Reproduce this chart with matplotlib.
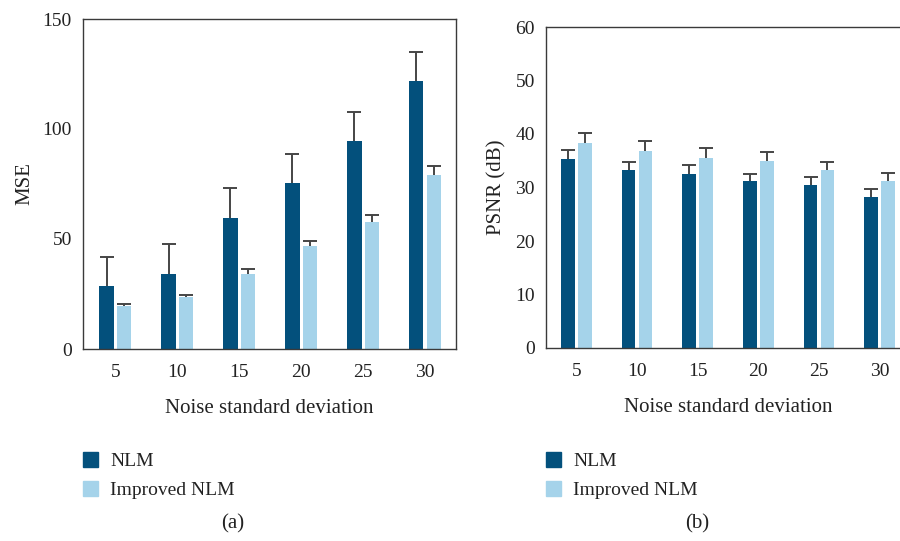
import numpy as np
import matplotlib
matplotlib.use("Agg")
import matplotlib.pyplot as plt
from matplotlib.patches import Patch

plt.rcParams['font.family'] = ['Liberation Serif', 'DejaVu Serif']

noise = ["5", "10", "15", "20", "25", "30"]
series = ["NLM", "Improved NLM"]

mse_nlm = [28.6, 34.1, 59.5, 75.5, 94.5, 121.8]
mse_nlm_err = [13.2, 13.5, 13.6, 13.1, 13.2, 13.2]
mse_imp = [19.6, 23.6, 34.1, 46.8, 57.7, 79.0]
mse_imp_err = [0.9, 0.9, 2.2, 2.3, 3.2, 4.2]

psnr_nlm = [35.3, 33.2, 32.6, 31.2, 30.4, 28.3]
psnr_nlm_err = [1.7, 1.5, 1.6, 1.4, 1.6, 1.5]
psnr_imp = [38.3, 36.8, 35.6, 34.9, 33.2, 31.2]
psnr_imp_err = [1.8, 1.8, 1.7, 1.7, 1.6, 1.5]

c_dark = "#03507c"
c_light = "#a5d3ea"
c_err = "#454545"
c_spine = "#3a3a3a"
c_text = "#222222"

fig = plt.figure(figsize=(9, 5.41), dpi=100)
ax1 = fig.add_axes([83 / 900, 1 - 349 / 541, 373 / 900, 330 / 541])
ax2 = fig.add_axes([546 / 900, 1 - 348 / 541, 364 / 900, 321 / 541])

x = np.arange(len(noise))
w = 0.23
off = 0.14


def draw(ax, a, a_err, b, b_err):
    for vals, errs, dx, col in [(a, a_err, -off, c_dark), (b, b_err, off, c_light)]:
        vals = np.array(vals)
        errs = np.array(errs)
        ax.bar(x + dx, vals, width=w, color=col, zorder=2)
        ax.errorbar(x + dx, vals, yerr=[np.zeros_like(errs), errs], fmt='none',
                    ecolor=c_err, elinewidth=1.4, capsize=0, zorder=3)
        ax.plot(x + dx, vals + errs, ls='none', marker='_', ms=10.5, mew=1.4,
                color=c_err, zorder=3)
    ax.set_xticks(x)
    ax.set_xticklabels(noise)
    ax.tick_params(length=0, labelsize=14, colors=c_text)
    ax.tick_params(axis='x', pad=11)
    ax.tick_params(axis='y', pad=8)
    for s in ax.spines.values():
        s.set_color(c_spine)
        s.set_linewidth(1.0)
    ax.set_xlabel("Noise standard deviation", fontsize=15, labelpad=13, color=c_text)


draw(ax1, mse_nlm, mse_nlm_err, mse_imp, mse_imp_err)
ax1.set_ylim(0, 150)
ax1.set_yticks([0, 50, 100, 150])
ax1.set_xlim(-0.52, 5.5)
ax1.set_ylabel("MSE", fontsize=15, labelpad=6, color=c_text)

draw(ax2, psnr_nlm, psnr_nlm_err, psnr_imp, psnr_imp_err)
ax2.set_ylim(0, 60)
ax2.set_yticks(range(0, 61, 10))
ax2.set_xlim(-0.5, 5.5)
ax2.spines['right'].set_visible(False)
ax2.set_ylabel("PSNR (dB)", fontsize=15, labelpad=6, color=c_text)

handles = [Patch(color=c_dark), Patch(color=c_light)]
for lx, cap, cx in [(83, "(a)", 233), (546, "(b)", 697)]:
    fig.legend(handles, series, loc='upper left', bbox_to_anchor=(lx / 900, 1 - 452 / 541),
               frameon=False, fontsize=14, handlelength=0.78, handleheight=0.78,
               handletextpad=0.62, labelspacing=0.58, borderpad=0, borderaxespad=0,
               labelcolor=c_text)
    fig.text(cx / 900, 1 - 524 / 541, cap, ha='center', va='center', fontsize=15, color=c_text)

fig.savefig("out.png", dpi=100)
